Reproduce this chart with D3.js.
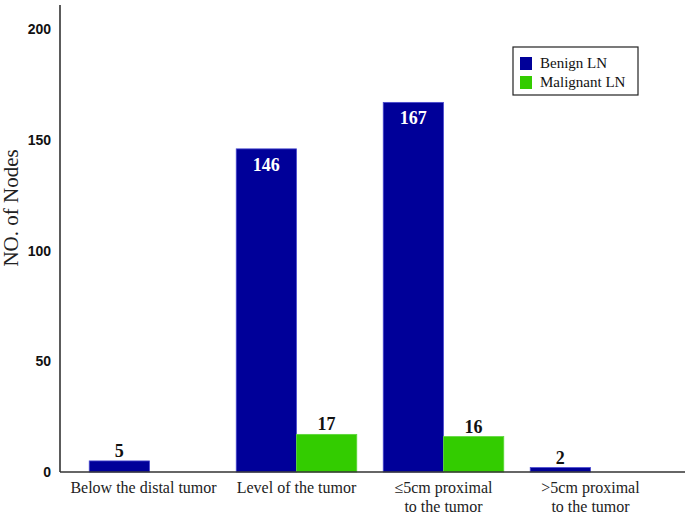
<!DOCTYPE html>
<html>
<head>
<meta charset="utf-8">
<script src="https://cdn.jsdelivr.net/npm/d3@7"></script>
<style>
  body { margin: 0; background: #fff; }
  svg { display: block; }
  .serif { font-family: "Liberation Serif", "Times New Roman", serif; }
</style>
</head>
<body>
<svg id="chart" width="685" height="517"></svg>
<script>
// data
var categories = ['below', 'level', 'le5', 'gt5'];
var categoryLines = [
  ['Below the distal tumor'],
  ['Level of the tumor'],
  ['\u22645cm proximal', 'to the tumor'],
  ['>5cm  proximal', 'to the tumor']
];
var benign = [5, 146, 167, 2];
var malignant = [0, 17, 16, 0];
var seriesNames = ['Benign LN', 'Malignant LN'];
var seriesColors = ['#000099', '#33cc00'];
var yTicks = [0, 50, 100, 150, 200];

var svg = d3.select('#chart');

var x0 = d3.scaleBand()
    .domain(categories)
    .range([76, 664])
    .paddingInner(0.18)
    .paddingOuter(0.09);

var x1 = d3.scaleBand()
    .domain(seriesNames)
    .range([0, x0.bandwidth()]);

var y = d3.scaleLinear()
    .domain([0, 211])
    .range([472, 5]);

// y axis (labels only + line)
var yAxis = d3.axisLeft(y).tickValues(yTicks).tickSize(0).tickPadding(9);
var gy = svg.append('g').attr('transform', 'translate(60,0)').call(yAxis);
gy.select('.domain').remove();
gy.attr('font-family', 'Liberation Sans, Arial, sans-serif')
  .attr('font-size', 14);
gy.selectAll('text')
    .attr('font-weight', 'bold')
    .attr('fill', '#111');

// bars
var rows = categories.map(function(c, i) {
  return { cat: c, vals: [benign[i], malignant[i]] };
});

var groups = svg.selectAll('.grp').data(rows).enter().append('g')
    .attr('class', 'grp')
    .attr('transform', function(d) { return 'translate(' + x0(d.cat) + ',0)'; });

function cells(d) {
  return d.vals.map(function(v, j) { return { name: seriesNames[j], v: v, j: j }; })
    .filter(function(c) { return c.v > 0; });
}

groups.selectAll('rect')
    .data(cells)
    .enter().append('rect')
    .attr('x', function(d) { return x1(d.name); })
    .attr('y', function(d) { return y(d.v); })
    .attr('width', x1.bandwidth())
    .attr('height', function(d) { return y(0) - y(d.v); })
    .attr('fill', function(d) { return seriesColors[d.j]; })
    .attr('stroke', function(d) { return d.j === 0 ? '#4a4ad0' : '#5cd83a'; })
    .attr('stroke-width', 0.8);

// value labels: big bars inside in white, small ones above in black
groups.selectAll('.val')
    .data(cells)
    .enter().append('text')
    .attr('class', 'val serif')
    .attr('x', function(d) { return x1(d.name) + x1.bandwidth() / 2; })
    .attr('y', function(d) { return d.v > 100 ? y(d.v) + 22 : y(d.v) - 4; })
    .attr('text-anchor', 'middle')
    .attr('font-weight', 'bold')
    .attr('font-size', 18)
    .attr('fill', function(d) { return d.v > 100 ? '#fff' : '#111'; })
    .text(function(d) { return d.v; });

// axis lines
svg.append('line')
    .attr('x1', 60).attr('x2', 60)
    .attr('y1', y(211)).attr('y2', y(0))
    .attr('stroke', '#333').attr('stroke-width', 1.6);
svg.append('line')
    .attr('x1', 60).attr('x2', 685)
    .attr('y1', y(0)).attr('y2', y(0))
    .attr('stroke', '#333').attr('stroke-width', 1.6);

// category labels
svg.selectAll('.cat').data(categories).enter().append('text')
    .attr('class', 'cat serif')
    .attr('text-anchor', 'middle')
    .attr('font-size', 16)
    .attr('fill', '#222')
    .each(function(c, i) {
      var t = d3.select(this);
      var cx = x0(c) + x0.bandwidth() / 2 - (i === 0 ? 6 : 0);
      categoryLines[i].forEach(function(line, k) {
        t.append('tspan')
          .attr('x', cx)
          .attr('y', 493 + k * 19)
          .text(line);
      });
    });

// y title
svg.append('text')
    .attr('class', 'serif')
    .attr('transform', 'translate(18,208) rotate(-90)')
    .attr('text-anchor', 'middle')
    .attr('font-size', 21)
    .attr('fill', '#222')
    .text('NO. of Nodes');

// legend
var legend = svg.append('g').attr('transform', 'translate(513,47)');
legend.append('rect')
    .attr('width', 125).attr('height', 48)
    .attr('fill', '#fff').attr('stroke', '#222').attr('stroke-width', 1.2);
var li = legend.selectAll('.li').data(seriesNames).enter().append('g')
    .attr('transform', function(d, i) { return 'translate(7,' + (10 + i * 19) + ')'; });
li.append('rect')
    .attr('width', 12).attr('height', 13)
    .attr('fill', function(d, i) { return seriesColors[i]; });
li.append('text')
    .attr('class', 'serif')
    .attr('x', 20).attr('y', 11)
    .attr('font-size', 15)
    .attr('fill', '#111')
    .text(function(d) { return d; });
</script>
</body>
</html>
